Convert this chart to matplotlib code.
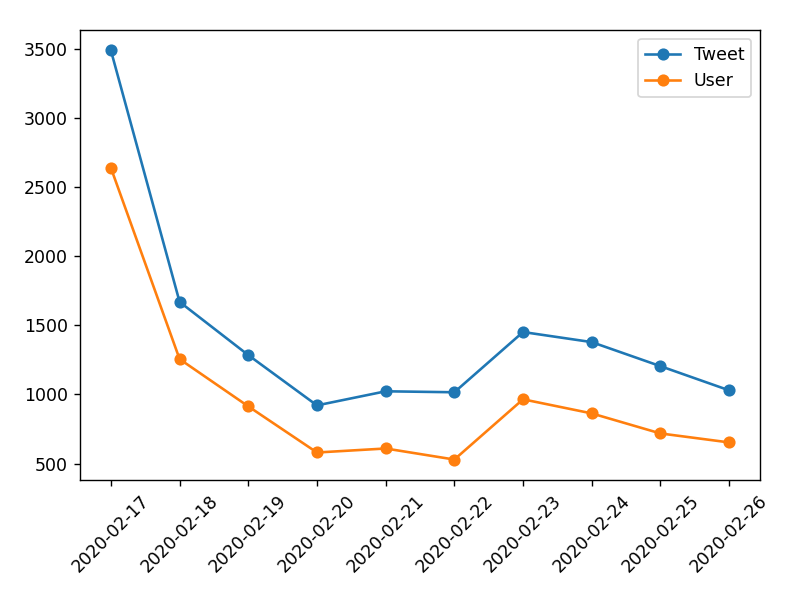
import matplotlib
matplotlib.use('Agg')
import matplotlib.pyplot as plt

dates = ['2020-02-17', '2020-02-18', '2020-02-19', '2020-02-20', '2020-02-21',
         '2020-02-22', '2020-02-23', '2020-02-24', '2020-02-25', '2020-02-26']
tweet = [3490, 1670, 1285, 921, 1023, 1016, 1452, 1379, 1205, 1030]
user = [2640, 1256, 914, 580, 609, 529, 965, 863, 718, 653]

fig = plt.figure(figsize=(6.4, 4.8), dpi=125)
plt.plot(dates, tweet, marker='o', label='Tweet')
plt.plot(dates, user, marker='o', label='User')
plt.legend(loc='upper right')
plt.xticks(rotation=45)
plt.subplots_adjust(left=0.1, right=0.95, top=0.95, bottom=0.2)
plt.savefig('out.png')
